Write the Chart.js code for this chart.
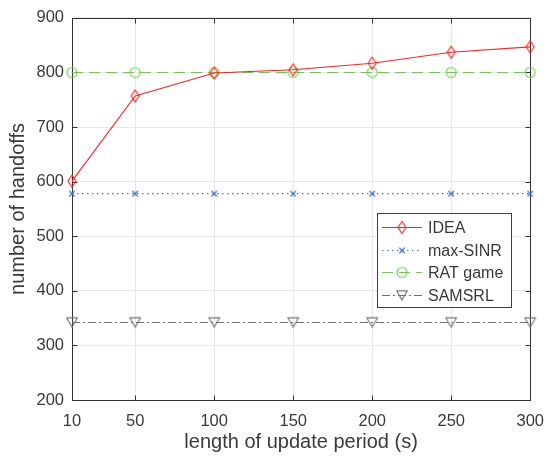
<!DOCTYPE html>
<html>
<head>
<meta charset="utf-8">
<script src="https://cdn.jsdelivr.net/npm/chart.js@4.4.1/dist/chart.umd.min.js"></script>
<style>
  html, body { margin: 0; padding: 0; background: #ffffff; }
  #wrap { width: 556px; height: 458px; position: relative; }
</style>
</head>
<body>
<div id="wrap"><canvas id="c" width="556" height="458"></canvas></div>
<script>
// ---- data ----
const xValues = [10, 50, 100, 150, 200, 250, 300];
const xTickLabels = [10, 50, 100, 150, 200, 250, 300];
const yTickLabels = [200, 300, 400, 500, 600, 700, 800, 900];
const seriesNames = ['IDEA', 'max-SINR', 'RAT game', 'SAMSRL'];
const ideaValues = [601, 757, 799, 805, 817, 837, 847];
const maxSinrValues = [578, 578, 578, 578, 578, 578, 578];
const ratGameValues = [800, 800, 800, 800, 800, 800, 800];
const samsrlValues = [342, 342, 342, 342, 342, 342, 342];

const TEXT = '#3a3a3a';
const AXIS = '#333333';
const FONT = "'Liberation Sans', Arial, sans-serif";

function makeMarker(kind, color) {
  const c = document.createElement('canvas');
  c.width = 16; c.height = 16;
  const g = c.getContext('2d');
  g.strokeStyle = color;
  g.lineWidth = 1.1;
  g.beginPath();
  if (kind === 'diamond') {
    g.moveTo(8, 2); g.lineTo(12, 8); g.lineTo(8, 14); g.lineTo(4, 8); g.closePath();
  } else if (kind === 'x') {
    g.lineWidth = 1.3;
    g.moveTo(5.3, 5.3); g.lineTo(10.7, 10.7);
    g.moveTo(10.7, 5.3); g.lineTo(5.3, 10.7);
  } else if (kind === 'circle') {
    g.arc(8, 8, 5, 0, Math.PI * 2);
  } else if (kind === 'tri') {
    g.moveTo(2.7, 3.4); g.lineTo(13.3, 3.4); g.lineTo(8, 12.6); g.closePath();
  }
  g.stroke();
  return c;
}

const styles = [
  { color: '#ff2020', dash: [], width: 1.1, marker: makeMarker('diamond', '#ff2020') },
  { color: '#4a78c8', dash: [1.5, 3.5], width: 1.1, marker: makeMarker('x', '#3f6fc8') },
  { color: '#72c657', dash: [11, 6], width: 1.1, marker: makeMarker('circle', '#72c657') },
  { color: '#707070', dash: [8, 3, 2, 3], width: 1, marker: makeMarker('tri', '#707070') }
];
const seriesValues = [ideaValues, maxSinrValues, ratGameValues, samsrlValues];

const datasets = seriesNames.map((name, k) => ({
  label: name,
  data: xValues.map((x, i) => ({ x: x, y: seriesValues[k][i] })),
  borderColor: styles[k].color,
  backgroundColor: styles[k].color,
  borderWidth: styles[k].width,
  borderDash: styles[k].dash,
  pointStyle: styles[k].marker,
  pointRadius: 6,
  pointHoverRadius: 6,
  tension: 0,
  clip: false
}));

const framePlugin = {
  id: 'frame',
  beforeDatasetsDraw(chart) {
    const { ctx, chartArea: a, scales } = chart;
    ctx.save();
    ctx.strokeStyle = AXIS;
    ctx.lineWidth = 1;
    const L = Math.round(a.left) + 0.5, R = Math.round(a.right) + 0.5;
    const T = Math.round(a.top) + 0.5, B = Math.round(a.bottom) + 0.5;
    ctx.beginPath();
    ctx.rect(L, T, R - L, B - T);
    // inward tick marks
    const tl = 5;
    xTickLabels.forEach(v => {
      const px = Math.round(scales.x.getPixelForValue(v)) + 0.5;
      ctx.moveTo(px, B); ctx.lineTo(px, B - tl);
      ctx.moveTo(px, T); ctx.lineTo(px, T + tl);
    });
    yTickLabels.forEach(v => {
      const py = Math.round(scales.y.getPixelForValue(v)) + 0.5;
      ctx.moveTo(L, py); ctx.lineTo(L + tl, py);
      ctx.moveTo(R, py); ctx.lineTo(R - tl, py);
    });
    ctx.stroke();
    ctx.restore();
  },
  afterDraw(chart) {
    const ctx = chart.ctx;
    ctx.save();
    // legend box
    const bx = 377.5, by = 213.5, bw = 134, bh = 94;
    ctx.fillStyle = '#ffffff';
    ctx.fillRect(bx, by, bw, bh);
    ctx.strokeStyle = '#404040';
    ctx.lineWidth = 1;
    ctx.strokeRect(bx, by, bw, bh);
    const rowY = [226.5, 249.5, 272, 294.5];
    ctx.font = '16px ' + FONT;
    ctx.textBaseline = 'middle';
    ctx.textAlign = 'left';
    seriesNames.forEach((name, k) => {
      const y = Math.round(rowY[k]) + 0.5;
      ctx.strokeStyle = styles[k].color;
      ctx.lineWidth = styles[k].width;
      ctx.setLineDash(styles[k].dash);
      ctx.beginPath();
      ctx.moveTo(382, y);
      ctx.lineTo(422, y);
      ctx.stroke();
      ctx.setLineDash([]);
      const m = styles[k].marker;
      ctx.drawImage(m, 402 - m.width / 2, y - m.height / 2);
      ctx.fillStyle = TEXT;
      ctx.fillText(name, 428, y + 1);
    });
    ctx.restore();
  }
};

new Chart(document.getElementById('c'), {
  type: 'line',
  data: { datasets: datasets },
  options: {
    responsive: false,
    animation: false,
    events: [],
    layout: { padding: { left: 0, top: 12, right: 15, bottom: 0 } },
    plugins: { legend: { display: false }, tooltip: { enabled: false } },
    scales: {
      x: {
        type: 'linear',
        min: 10, max: 300,
        afterBuildTicks(scale) { scale.ticks = xTickLabels.map(v => ({ value: v })); },
        afterFit(scale) { scale.height = 58; },
        grid: { color: '#e8e8e8', drawTicks: false, lineWidth: 1 },
        border: { display: false },
        ticks: { color: TEXT, font: { family: FONT, size: 16.5 }, padding: 12, maxRotation: 0, autoSkip: false },
        title: { display: true, text: 'length of update period (s)', color: TEXT,
                 font: { family: FONT, size: 20 }, padding: { top: 0, bottom: 4 } }
      },
      y: {
        type: 'linear',
        min: 200, max: 900,
        afterBuildTicks(scale) { scale.ticks = yTickLabels.map(v => ({ value: v })); },
        afterFit(scale) { scale.width = 72; },
        grid: { color: '#e8e8e8', drawTicks: false, lineWidth: 1 },
        border: { display: false },
        ticks: { color: TEXT, font: { family: FONT, size: 16.5 }, padding: 8 },
        title: { display: true, text: 'number of handoffs', color: TEXT,
                 font: { family: FONT, size: 20 }, padding: { top: 6, bottom: 0 } }
      }
    }
  },
  plugins: [framePlugin]
});
</script>
</body>
</html>
